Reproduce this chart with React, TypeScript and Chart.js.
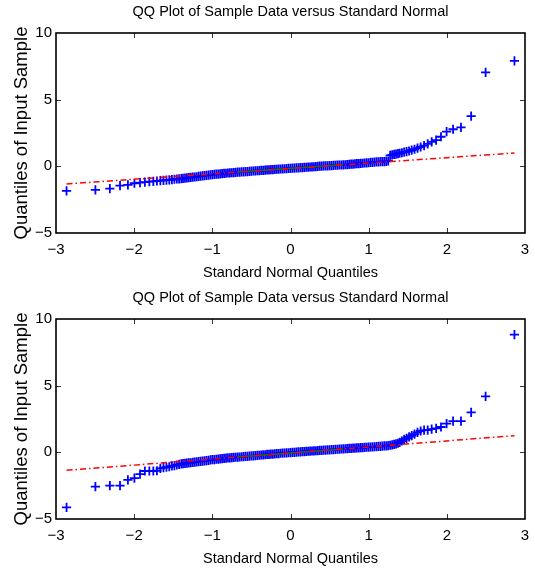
import React, { useEffect, useRef } from "react";
import { Chart, registerables } from "chart.js";

Chart.register(...registerables);

// ---- data ----
const titleText = "QQ Plot of Sample Data versus Standard Normal";
const xAxisLabel = "Standard Normal Quantiles";
const yAxisLabel = "Quantiles of Input Sample";

const xTicks = [-3, -2, -1, 0, 1, 2, 3];
const yTicks = [-5, 0, 5, 10];

// theoretical standard normal quantiles (x of each marker)
const quantiles = [
  -2.865, -2.496, -2.311, -2.181, -2.08, -1.997, -1.925, -1.863, -1.806, -1.755,
  -1.709, -1.665, -1.625, -1.587, -1.551, -1.517, -1.485, -1.454, -1.425, -1.397,
  -1.375, -1.35, -1.325, -1.3, -1.275, -1.25, -1.225, -1.2, -1.175, -1.15,
  -1.125, -1.1, -1.075, -1.05, -1.025, -1.0, -0.975, -0.95, -0.925, -0.9,
  -0.875, -0.85, -0.825, -0.8, -0.775, -0.75, -0.725, -0.7, -0.675, -0.65,
  -0.625, -0.6, -0.575, -0.55, -0.525, -0.5, -0.475, -0.45, -0.425, -0.4,
  -0.375, -0.35, -0.325, -0.3, -0.275, -0.25, -0.225, -0.2, -0.175, -0.15,
  -0.125, -0.1, -0.075, -0.05, -0.025, 0, 0.025, 0.05, 0.075, 0.1,
  0.125, 0.15, 0.175, 0.2, 0.225, 0.25, 0.275, 0.3, 0.325, 0.35,
  0.375, 0.4, 0.425, 0.45, 0.475, 0.5, 0.525, 0.55, 0.575, 0.6,
  0.625, 0.65, 0.675, 0.7, 0.725, 0.75, 0.775, 0.8, 0.825, 0.85,
  0.875, 0.9, 0.925, 0.95, 0.975, 1.0, 1.025, 1.05, 1.075, 1.1,
  1.125, 1.15, 1.175, 1.2, 1.225, 1.25, 1.275, 1.3, 1.325, 1.35,
  1.375,
  1.397, 1.425, 1.454, 1.485, 1.517, 1.551, 1.587, 1.625, 1.665, 1.709,
  1.755, 1.806, 1.863, 1.925, 1.997, 2.08, 2.181, 2.311, 2.496, 2.865,
];

// sample quantiles, top panel
const sampleTop = [
  -1.84, -1.77, -1.67, -1.44, -1.39, -1.27, -1.22, -1.18, -1.15, -1.13,
  -1.1, -1.07, -1.05, -1.03, -1.01, -0.99, -0.97, -0.95, -0.94, -0.92,
  -0.9, -0.89, -0.87, -0.85, -0.83, -0.81, -0.8, -0.78, -0.76, -0.74,
  -0.72, -0.7, -0.68, -0.66, -0.64, -0.62, -0.61, -0.59, -0.58, -0.56,
  -0.55, -0.53, -0.52, -0.5, -0.49, -0.48, -0.47, -0.45, -0.44, -0.43,
  -0.42, -0.41, -0.4, -0.39, -0.38, -0.36, -0.35, -0.34, -0.33, -0.32,
  -0.31, -0.3, -0.29, -0.27, -0.26, -0.25, -0.24, -0.23, -0.22, -0.21,
  -0.2, -0.19, -0.18, -0.17, -0.16, -0.15, -0.14, -0.13, -0.12, -0.11,
  -0.1, -0.09, -0.08, -0.07, -0.06, -0.05, -0.04, -0.03, -0.02, -0.01,
  0.01, 0.02, 0.03, 0.03, 0.04, 0.05, 0.06, 0.07, 0.08, 0.09,
  0.1, 0.1, 0.11, 0.12, 0.13, 0.15, 0.16, 0.17, 0.18, 0.2,
  0.21, 0.22, 0.23, 0.25, 0.26, 0.27, 0.29, 0.3, 0.32, 0.33,
  0.34, 0.35, 0.36, 0.36, 0.37, 0.4, 0.82, 0.86, 0.89, 0.92,
  0.95,
  0.98, 1.02, 1.06, 1.1, 1.15, 1.22, 1.28, 1.36, 1.45, 1.55,
  1.68, 1.83, 1.97, 2.22, 2.6, 2.78, 2.92, 3.77, 7.04, 7.91,
];

// sample quantiles, bottom panel
const sampleBottom = [
  -4.13, -2.57, -2.49, -2.49, -2.07, -1.94, -1.64, -1.4, -1.4, -1.4,
  -1.38, -1.2, -1.15, -1.12, -1.08, -1.02, -0.99, -0.95, -0.9, -0.87,
  -0.84, -0.83, -0.81, -0.79, -0.78, -0.76, -0.74, -0.72, -0.7, -0.68,
  -0.66, -0.64, -0.62, -0.6, -0.57, -0.55, -0.54, -0.52, -0.51, -0.49,
  -0.47, -0.46, -0.44, -0.42, -0.41, -0.4, -0.38, -0.37, -0.36, -0.35,
  -0.33, -0.32, -0.31, -0.3, -0.28, -0.27, -0.26, -0.24, -0.23, -0.22,
  -0.2, -0.19, -0.18, -0.16, -0.15, -0.14, -0.13, -0.11, -0.1, -0.09,
  -0.07, -0.06, -0.05, -0.04, -0.03, -0.02, -0.01, 0.0, 0.02, 0.03,
  0.04, 0.05, 0.06, 0.07, 0.08, 0.09, 0.1, 0.11, 0.12, 0.13,
  0.14, 0.15, 0.16, 0.17, 0.18, 0.19, 0.2, 0.21, 0.22, 0.23,
  0.24, 0.25, 0.26, 0.27, 0.28, 0.29, 0.3, 0.31, 0.32, 0.33,
  0.34, 0.35, 0.36, 0.37, 0.38, 0.39, 0.4, 0.41, 0.42, 0.43,
  0.44, 0.45, 0.46, 0.48, 0.49, 0.51, 0.53, 0.56, 0.59, 0.63,
  0.68,
  0.75, 0.85, 0.97, 1.05, 1.16, 1.25, 1.37, 1.5, 1.6, 1.66,
  1.66, 1.74, 1.8, 1.9, 2.16, 2.34, 2.34, 2.99, 4.2, 8.83,
];

// reference line (dash-dot) end points at the extreme theoretical quantiles
const lineX = [-2.865, 2.865];
const lineTop = [-1.32, 1.0];
const lineBottom = [-1.35, 1.25];
// quartile segment (solid)
const quartX = [-0.674, 0.674];
const quartTop = [-0.434, 0.114];
const quartBottom = [-0.357, 0.257];

// ---- styling ----
const FONT = '"Liberation Sans", Arial, Helvetica, sans-serif';
const W = 535;
const H = 286;

const minus = (v: number | string) => String(v).replace("-", "\u2212");

const framePlugin = {
  id: "frame",
  afterDraw(chart: any) {
    const { ctx, chartArea: a, scales } = chart;
    ctx.save();
    ctx.strokeStyle = "#333";
    ctx.lineWidth = 1;
    const tl = 5;
    xTicks.forEach((v) => {
      const px = Math.round(scales.x.getPixelForValue(v)) + 0.5;
      if (px <= a.left + 1 || px >= a.right - 1) return;
      ctx.beginPath();
      ctx.moveTo(px, a.bottom);
      ctx.lineTo(px, a.bottom - tl);
      ctx.moveTo(px, a.top);
      ctx.lineTo(px, a.top + tl);
      ctx.stroke();
    });
    yTicks.forEach((v) => {
      const py = Math.round(scales.y.getPixelForValue(v)) + 0.5;
      if (py <= a.top + 1 || py >= a.bottom - 1) return;
      ctx.beginPath();
      ctx.moveTo(a.left, py);
      ctx.lineTo(a.left + tl, py);
      ctx.moveTo(a.right, py);
      ctx.lineTo(a.right - tl, py);
      ctx.stroke();
    });
    ctx.strokeStyle = "#000";
    ctx.lineWidth = 1.6;
    ctx.strokeRect(a.left, a.top, a.right - a.left, a.bottom - a.top);
    ctx.restore();
  },
};

function QQPanel({ sample, line, quart, top }: { sample: number[]; line: number[]; quart: number[]; top: number }) {
  const ref = useRef<HTMLCanvasElement | null>(null);
  useEffect(() => {
    if (!ref.current) return;
    const pts = quantiles.map((q, i) => ({ x: q, y: sample[i] }));
    const chart = new Chart(ref.current, {
      type: "scatter",
      data: {
        datasets: [
          {
            data: lineX.map((x, i) => ({ x, y: line[i] })),
            xAxisID: "x",
            yAxisID: "y",
            showLine: true,
            borderColor: "#ff0000",
            borderWidth: 1.5,
            borderDash: [6, 3, 1.5, 3],
            pointRadius: 0,
            order: 0,
          },
          {
            data: quartX.map((x, i) => ({ x, y: quart[i] })),
            xAxisID: "x",
            yAxisID: "y",
            showLine: true,
            borderColor: "#008000",
            borderWidth: 1.5,
            pointRadius: 0,
            order: 1,
          },
          {
            data: pts,
            xAxisID: "x",
            yAxisID: "y",
            pointStyle: "cross",
            pointRadius: 4.6,
            pointBorderWidth: 1.8,
            borderColor: "#0000ff",
            backgroundColor: "#0000ff",
            order: 2,
          },
        ],
      },
      options: {
        animation: false,
        responsive: false,
        devicePixelRatio: 1,
        layout: { padding: { left: 0, right: 10, top: 0, bottom: 0 } },
        plugins: {
          legend: { display: false },
          tooltip: { enabled: false },
          title: { display: false },
        },
        scales: {
          x: {
            type: "linear",
            position: "bottom",
            min: -3,
            max: 3,
            afterBuildTicks: (s: any) => {
              s.ticks = xTicks.map((v) => ({ value: v }));
            },
            ticks: {
              color: "#000",
              font: { family: FONT, size: 15 },
              padding: 8,
              maxRotation: 0,
              callback: (v: any) => minus(v),
            },
            grid: { display: false, drawTicks: false },
            border: { display: false },
            title: {
              display: true,
              text: xAxisLabel,
              color: "#000",
              font: { family: FONT, size: 14.5 },
              padding: { top: 0, bottom: 4.5 },
            },
            afterFit: (s: any) => {
              s.height = 53;
              s.paddingLeft = 0;
              s.paddingRight = 0;
            },
          },
          x2: {
            type: "linear",
            position: "top",
            min: -3,
            max: 3,
            ticks: { display: false },
            grid: { display: false, drawTicks: false },
            border: { display: false },
            title: {
              display: true,
              text: titleText,
              color: "#000",
              font: { family: FONT, size: 14.5 },
              padding: { top: 3.5, bottom: 0 },
            },
            afterFit: (s: any) => {
              s.height = 33;
              s.paddingLeft = 0;
              s.paddingRight = 0;
            },
          },
          y: {
            type: "linear",
            min: -5,
            max: 10,
            afterBuildTicks: (s: any) => {
              s.ticks = yTicks.map((v) => ({ value: v }));
            },
            ticks: {
              color: "#000",
              font: { family: FONT, size: 15 },
              padding: 4,
              callback: (v: any) => minus(v),
            },
            grid: { display: false, drawTicks: false },
            border: { display: false },
            title: {
              display: true,
              text: yAxisLabel,
              color: "#000",
              font: { family: FONT, size: 18.5 },
              padding: { top: 11, bottom: 0 },
            },
            afterFit: (s: any) => {
              s.width = 56;
              s.paddingTop = 0;
              s.paddingBottom = 0;
            },
          },
        },
      },
      plugins: [framePlugin],
    } as any);
    return () => chart.destroy();
  }, [sample, line, quart]);
  return (
    <canvas
      ref={ref}
      width={W}
      height={H}
      style={{ position: "absolute", left: 0, top, width: W, height: H }}
    />
  );
}

export default function App() {
  return (
    <div style={{ position: "absolute", left: 0, top: 0, width: W, height: 573, background: "#fff" }}>
      <QQPanel sample={sampleTop} line={lineTop} quart={quartTop} top={0} />
      <QQPanel sample={sampleBottom} line={lineBottom} quart={quartBottom} top={286} />
    </div>
  );
}
